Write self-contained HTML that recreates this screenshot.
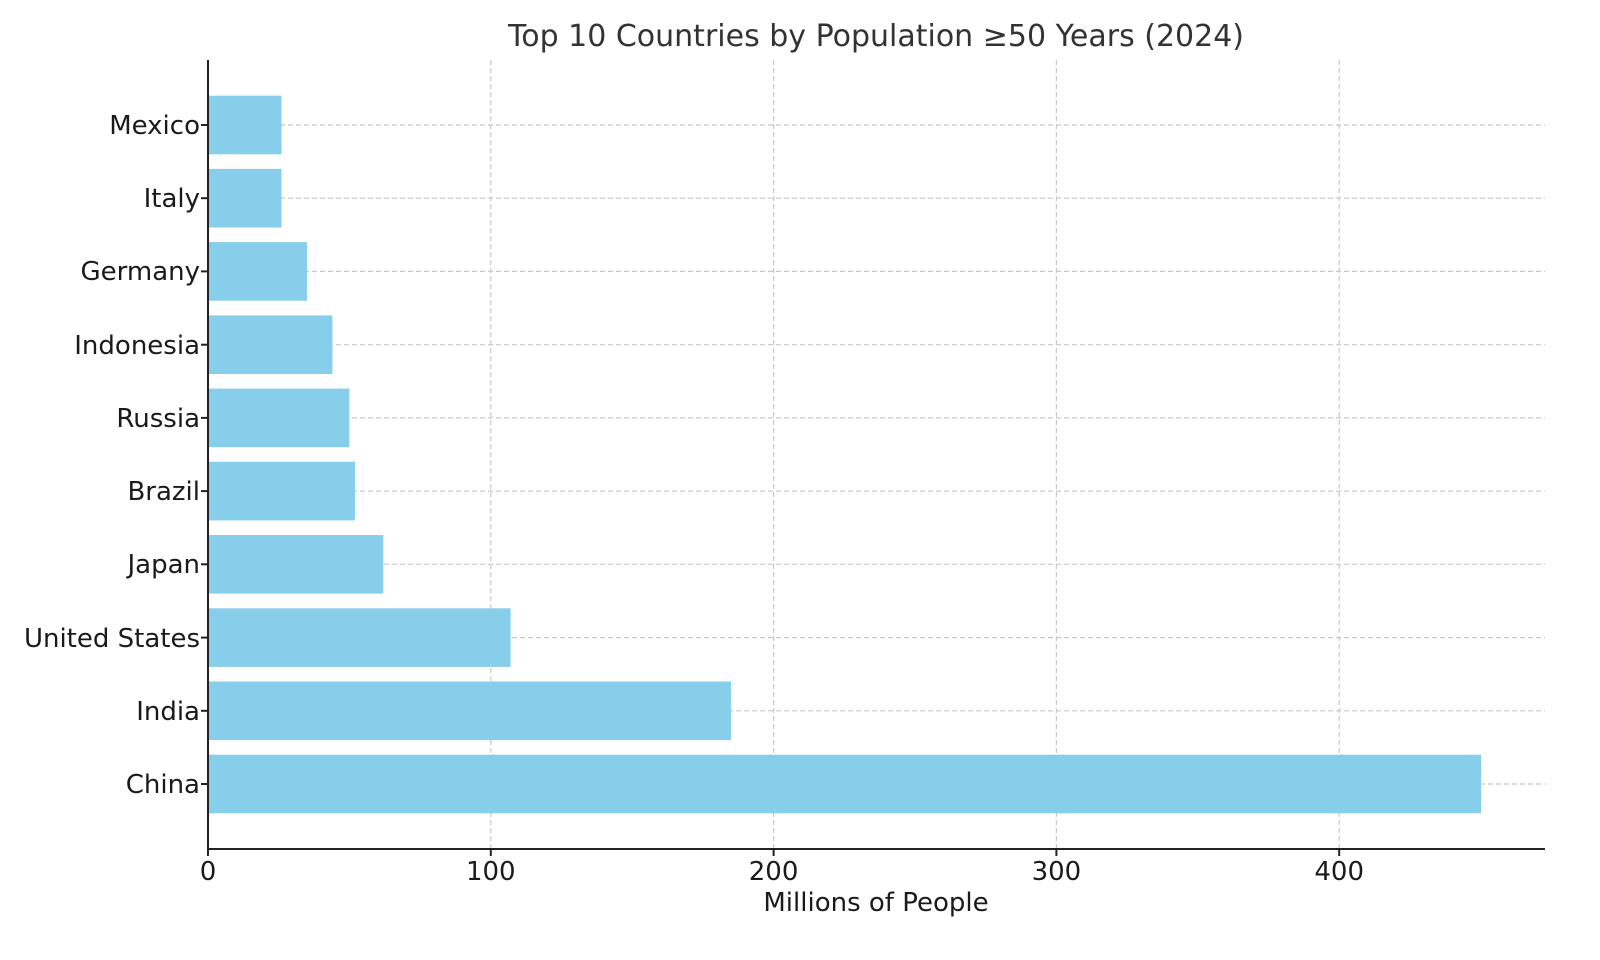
<!DOCTYPE html>
<html><head><meta charset="utf-8"><style>
html,body{margin:0;padding:0;background:#fff;}
svg{display:block;font-family:"DejaVu Sans","Liberation Sans",sans-serif;}
</style></head><body>
<svg width="1600" height="960" viewBox="0 0 1600 960" xmlns="http://www.w3.org/2000/svg">
<rect width="1600" height="960" fill="#fff"/>
<g stroke="#c8c8c8" stroke-width="1.2" stroke-dasharray="5,3">
<line x1="490.8" y1="60" x2="490.8" y2="849"/>
<line x1="773.6" y1="60" x2="773.6" y2="849"/>
<line x1="1056.4" y1="60" x2="1056.4" y2="849"/>
<line x1="1339.2" y1="60" x2="1339.2" y2="849"/>
<line x1="208" y1="125" x2="1545" y2="125"/>
<line x1="208" y1="198.2" x2="1545" y2="198.2"/>
<line x1="208" y1="271.4" x2="1545" y2="271.4"/>
<line x1="208" y1="344.7" x2="1545" y2="344.7"/>
<line x1="208" y1="417.9" x2="1545" y2="417.9"/>
<line x1="208" y1="491.1" x2="1545" y2="491.1"/>
<line x1="208" y1="564.3" x2="1545" y2="564.3"/>
<line x1="208" y1="637.6" x2="1545" y2="637.6"/>
<line x1="208" y1="710.8" x2="1545" y2="710.8"/>
<line x1="208" y1="784" x2="1545" y2="784"/>
</g>
<g fill="#87ceeb">
<rect x="208" y="754.7" width="1273" height="58.6"/>
<rect x="208" y="681.5" width="523" height="58.6"/>
<rect x="208" y="608.3" width="302.6" height="58.6"/>
<rect x="208" y="535" width="175.3" height="58.6"/>
<rect x="208" y="461.8" width="147" height="58.6"/>
<rect x="208" y="388.6" width="141.4" height="58.6"/>
<rect x="208" y="315.4" width="124.4" height="58.6"/>
<rect x="208" y="242.1" width="99" height="58.6"/>
<rect x="208" y="168.9" width="73.5" height="58.6"/>
<rect x="208" y="95.7" width="73.5" height="58.6"/>
</g>
<g stroke="#222" stroke-width="2">
<line x1="208" y1="60" x2="208" y2="850"/>
<line x1="207" y1="849" x2="1545" y2="849"/>
<line x1="208" y1="849" x2="208" y2="856"/>
<line x1="490.8" y1="849" x2="490.8" y2="856"/>
<line x1="773.6" y1="849" x2="773.6" y2="856"/>
<line x1="1056.4" y1="849" x2="1056.4" y2="856"/>
<line x1="1339.2" y1="849" x2="1339.2" y2="856"/>
<line x1="201" y1="125" x2="208" y2="125"/>
<line x1="201" y1="198.2" x2="208" y2="198.2"/>
<line x1="201" y1="271.4" x2="208" y2="271.4"/>
<line x1="201" y1="344.7" x2="208" y2="344.7"/>
<line x1="201" y1="417.9" x2="208" y2="417.9"/>
<line x1="201" y1="491.1" x2="208" y2="491.1"/>
<line x1="201" y1="564.3" x2="208" y2="564.3"/>
<line x1="201" y1="637.6" x2="208" y2="637.6"/>
<line x1="201" y1="710.8" x2="208" y2="710.8"/>
<line x1="201" y1="784" x2="208" y2="784"/>
</g>
<g fill="#1a1a1a" font-size="26" text-anchor="end">
<text x="200" y="134">Mexico</text>
<text x="200" y="207">Italy</text>
<text x="200" y="280">Germany</text>
<text x="200" y="354">Indonesia</text>
<text x="200" y="427">Russia</text>
<text x="200" y="500">Brazil</text>
<text x="200" y="573">Japan</text>
<text x="200" y="647">United States</text>
<text x="200" y="720">India</text>
<text x="200" y="793">China</text>
</g>
<g fill="#1a1a1a" font-size="26" text-anchor="middle">
<text x="208" y="880">0</text>
<text x="490.8" y="880">100</text>
<text x="773.6" y="880">200</text>
<text x="1056.4" y="880">300</text>
<text x="1339.2" y="880">400</text>
<text x="876" y="911">Millions of People</text>
<text x="876" y="46" font-size="30" fill="#333">Top 10 Countries by Population ≥50 Years (2024)</text>
</g>
</svg>
</body></html>
